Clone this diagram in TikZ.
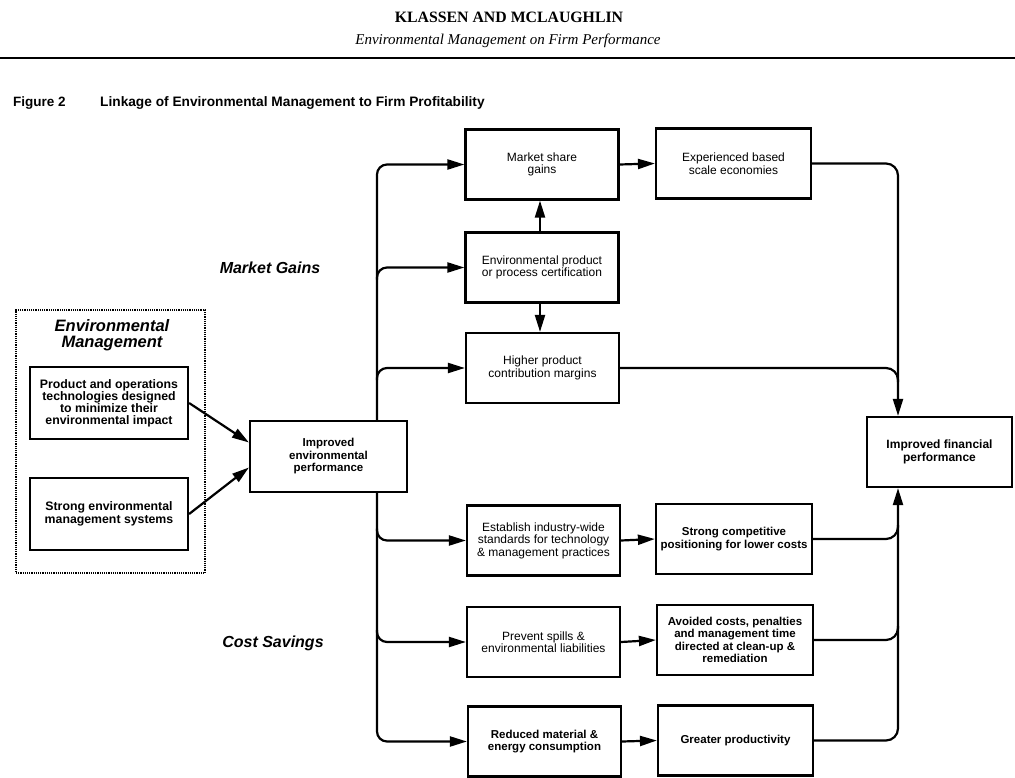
\documentclass[tikz,border=0pt]{standalone}
\usepackage{fontspec}
\setmainfont{Liberation Sans}
\newfontfamily\hdserif{Liberation Serif}
\usetikzlibrary{arrows.meta,calc}
\begin{document}
\begin{tikzpicture}[x=1pt,y=-1pt,
  bx/.style={draw, line width=2.2pt, fill=white, align=center, inner sep=2pt,
    minimum width=153pt, minimum height=70pt, font=\fontsize{12}{12.5}\selectfont},
  bxb/.style={bx, font=\fontsize{11.5}{12.5}\selectfont\bfseries},
  ln/.style={line width=2.2pt},
  arr/.style={ln, -{Triangle[length=17pt,width=10pt]}},
  lbl/.style={font=\fontsize{16}{18}\selectfont\bfseries\itshape}
]
\useasboundingbox (0,0) rectangle (1015,778);

% header
\node[font=\hdserif\bfseries\fontsize{15.8}{17}\selectfont] (hd) at (509,17) {KLASSEN AND MCLAUGHLIN};
\node[font=\hdserif\itshape\fontsize{15}{17}\selectfont] (sub) at (508,41) {Environmental Management on Firm Performance};
\draw[line width=2.5pt] (0,58) -- (1015,58);
\node[anchor=west, font=\fontsize{13.5}{15}\selectfont\bfseries, inner sep=0] (fig) at (13,103) {Figure 2};
\node[anchor=west, font=\fontsize{13.7}{15}\selectfont\bfseries, inner sep=0] (cap) at (100,103) {Linkage of Environmental Management to Firm Profitability};

% trunk coordinates
\coordinate (tk) at (377,0);
\coordinate (rk) at (898,0);

% left group
\node[draw, densely dotted, line width=1.2pt, minimum width=189pt, minimum height=263pt, inner sep=0] (em) at (110.5,441.5) {};
\node[font=\fontsize{16.5}{15.5}\selectfont\bfseries\itshape, align=center] (emt) at (112,335) {Environmental\\Management};
\node[bxb, minimum width=158pt, minimum height=72pt, font=\fontsize{12.3}{12}\selectfont\bfseries] (pot) at (109,403)
  {Product and operations\\technologies designed\\to minimize their\\environmental impact};
\node[bxb, minimum width=158pt, minimum height=72pt, font=\fontsize{12.3}{12.5}\selectfont\bfseries] (sems) at (109,514)
  {Strong environmental\\management systems};

% labels
\node[lbl] (mg) at (270,268) {Market Gains};
\node[lbl] (cs) at (273,643) {Cost Savings};

% middle column
\node[bx] (ms) at (542,164.5) {Market share\\gains};
\node[bx] (cert) at (542,267.5) {Environmental product\\or process certification};
\node[bx] (hpm) at (542.5,368) {Higher product\\contribution margins};
\node[bx] (est) at (543.5,540.5) {Establish industry-wide\\standards for technology\\\& management practices};
\node[bx] (psl) at (543.5,642) {Prevent spills \&\\environmental liabilities};
\node[bxb] (rmc) at (544.5,741.5) {Reduced material \&\\energy consumption};

% right column
\node[bx, minimum width=155pt] (exp) at (733.5,163.5) {Experienced based\\scale economies};
\node[bxb, minimum width=156pt] (scp) at (734,539) {Strong competitive\\positioning for lower costs};
\node[bxb, minimum width=156pt] (ac) at (735,640) {Avoided costs, penalties\\and management time\\directed at clean-up \&\\remediation};
\node[bxb, minimum width=155pt] (gp) at (735.5,740.5) {Greater productivity};

\node[bxb, minimum width=145pt, minimum height=70pt, font=\fontsize{12}{13}\selectfont\bfseries] (ifp) at (939.5,452) {Improved financial\\performance};

% trunk lines
\coordinate (iepn) at (377,421);
\coordinate (ieps) at (377,492);
\draw[arr, rounded corners=10pt] (iepn) -- (ms.west -| tk) -- (ms.west);
\draw[arr, rounded corners=10pt] (ieps) -- (rmc.west -| tk) -- (rmc.west);
\draw[arr, rounded corners=10pt] ($(cert.west -| tk)+(0,12)$) -- (cert.west -| tk) -- (cert.west);
\draw[arr, rounded corners=10pt] ($(hpm.west -| tk)+(0,12)$) -- (hpm.west -| tk) -- (hpm.west);
\draw[arr, rounded corners=10pt] ($(est.west -| tk)+(0,-12)$) -- (est.west -| tk) -- (est.west);
\draw[arr, rounded corners=10pt] ($(psl.west -| tk)+(0,-12)$) -- (psl.west -| tk) -- (psl.west);

\node[bxb, minimum width=157pt, minimum height=71pt] (iep) at (328.5,456.5) {Improved\\environmental\\performance};

% inputs
\draw[arr] (pot.east) -- ($(iep.west)+(0,-14)$);
\draw[arr] (sems.east) -- ($(iep.west)+(0,11)$);

% vertical arrows
\draw[arr] (cert.north -| 540,0) -- (ms.south -| 540,0);
\draw[arr] (cert.south -| 540,0) -- (hpm.north -| 540,0);

% horizontal arrows
\draw[arr] (ms.east) -- (exp.west);
\draw[arr] (est.east) -- (scp.west);
\draw[arr] (psl.east) -- (ac.west);
\draw[arr] (rmc.east) -- (gp.west);

% right trunk
\draw[arr, rounded corners=12pt] (exp.east) -- (exp.east -| rk) -- (ifp.north -| rk);
\draw[ln, rounded corners=12pt] (hpm.east) -- (hpm.east -| rk) -- ($(hpm.east -| rk)+(0,14)$);
\draw[arr, rounded corners=12pt] (gp.east) -- (gp.east -| rk) -- (ifp.south -| rk);
\draw[ln, rounded corners=12pt] (scp.east) -- (scp.east -| rk) -- ($(scp.east -| rk)+(0,-14)$);
\draw[ln, rounded corners=12pt] (ac.east) -- (ac.east -| rk) -- ($(ac.east -| rk)+(0,-14)$);
\end{tikzpicture}
\end{document}
